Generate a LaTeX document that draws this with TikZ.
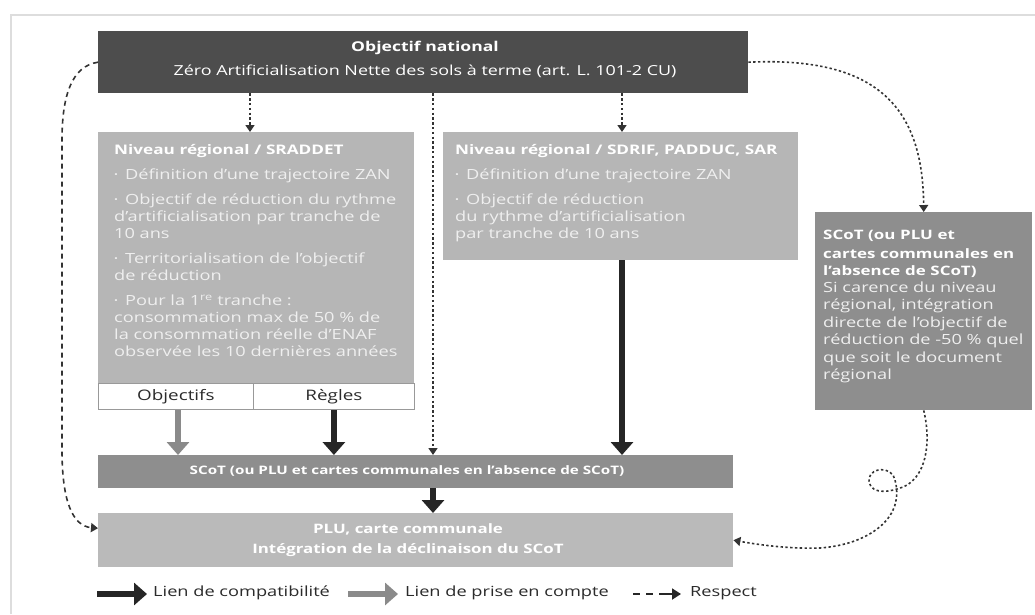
\documentclass[tikz,border=0pt]{standalone}
\usepackage{fontspec}
\setmainfont{Open Sans}[FakeStretch=1.3]
\usetikzlibrary{arrows.meta,calc}
\definecolor{dark}{HTML}{4D4D4D}
\definecolor{light}{HTML}{B6B6B6}
\definecolor{plug}{HTML}{BABABA}
\definecolor{mid}{HTML}{8E8E8E}
\definecolor{framec}{HTML}{DDDDDD}
\definecolor{txt}{HTML}{2B2B2B}
\definecolor{soft}{HTML}{EFEFEF}
\definecolor{arrg}{HTML}{8A8A8A}
\newcommand{\bitem}[1]{\par\vspace{8pt}\hangindent=11pt\hangafter=1\noindent\makebox[11pt][l]{\raisebox{1.5pt}{\fontsize{8}{8}\selectfont •}}#1}
\tikzset{
  box/.style={draw=none, inner sep=0pt, anchor=north west},
  body/.style={font=\fontsize{14}{17}\selectfont, text=soft, align=left, anchor=north west, inner sep=0pt},
  ttl/.style={font=\fontsize{13.2}{17}\selectfont\bfseries, text=white},
  cell/.style={box, fill=white, draw=black!40, line width=0.8pt, font=\fontsize{14.5}{17}\selectfont, text=txt},
  comp/.style={line width=5.5pt, draw=black!85, -{Triangle[width=22pt,length=13pt]}},
  prise/.style={line width=5.5pt, draw=arrg, -{Triangle[width=22pt,length=13pt]}},
  resp/.style={line width=1.6pt, draw=black!80, dash pattern=on 2.4pt off 2.4pt, -{Triangle[width=9pt,length=7pt]}},
  respd/.style={line width=1.6pt, draw=black!80, dash pattern=on 5pt off 4pt, -{Triangle[width=9pt,length=7pt]}},
  legtxt/.style={font=\fontsize{14}{17}\selectfont, text=txt, anchor=west, inner sep=0pt},
}
\begin{document}
\begin{tikzpicture}[x=1pt,y=-1pt]
\useasboundingbox (0,0) rectangle (1035,614);
\fill[white] (0,0) rectangle (1035,614);
% frame
\draw[framec, line width=1.5pt] (11,614) -- (11,15) -- (1035,15);

% boxes
\node[box, fill=dark, minimum width=650pt, minimum height=62pt] (top) at (98,31) {};
\node[font=\fontsize{13.8}{24}\selectfont, text=white, align=center] (toptxt) at (425,59)
  {{\fontsize{13.5}{24}\selectfont\bfseries Objectif national}\\ Zéro Artificialisation Nette des sols à terme (art. L. 101-2 CU)};

\node[box, fill=light, minimum width=316pt, minimum height=251pt] (srad) at (98,132) {};
\node[body, text width=300pt] (sradtxt) at (114,144) {%
  {\fontsize{13.2}{17}\selectfont\bfseries\color{white}Niveau régional / SRADDET}%
  \bitem{Définition d'une trajectoire ZAN}%
  \bitem{Objectif de réduction du rythme\\ d'artificialisation par tranche de\\ 10 ans}%
  \bitem{Territorialisation de l'objectif\\ de réduction}%
  \bitem{Pour la 1\textsuperscript{re} tranche :\\ consommation max de 50~\% de\\ la consommation réelle d'ENAF\\ observée les 10 dernières années}};

\node[cell, minimum width=155pt, minimum height=26pt] (obj) at (98,383) {Objectifs};
\node[cell, minimum width=161pt, minimum height=26pt] (reg) at (253,383) {Règles};

\node[box, fill=light, minimum width=355pt, minimum height=128pt] (sdrif) at (443,132) {};
\node[body, text width=330pt] (sdriftxt) at (455,144) {%
  {\fontsize{13.2}{17}\selectfont\bfseries\color{white}Niveau régional / SDRIF, PADDUC, SAR}%
  \bitem{Définition d'une trajectoire ZAN}%
  \bitem{Objectif de réduction\\ du rythme d'artificialisation\\ par tranche de 10 ans}};

\node[box, fill=mid, minimum width=217pt, minimum height=198pt] (rscot) at (815,212) {};
\node[body, text width=205pt, font=\fontsize{14}{17.5}\selectfont] (rscottxt) at (823,230) {%
  {\color{white}\fontsize{13}{18.5}\selectfont\bfseries SCoT (ou PLU et\\ cartes communales en\\ l'absence de SCoT)}\par\vspace{-1pt}%
  Si carence du niveau\\ régional, intégration\\ directe de l'objectif de\\ réduction de -50~\% quel\\ que soit le document\\ régional};

\node[box, fill=mid, minimum width=635pt, minimum height=33pt] (scot) at (98,455) {};
\node[ttl, font=\fontsize{11.7}{17}\selectfont\bfseries] (scottxt) at (407,471) {SCoT (ou PLU et cartes communales en l'absence de SCoT)};

\node[box, fill=plug, minimum width=635pt, minimum height=54pt] (plu) at (98,513) {};
\node[ttl, font=\fontsize{13}{20}\selectfont\bfseries, align=center] (plutxt) at (408,540)
  {PLU, carte communale\\ Intégration de la déclinaison du SCoT};

% coordinates for vertical connectors
\coordinate (xa) at (250,0);
\coordinate (xv) at (433,0);
\coordinate (xs) at (622,0);
\coordinate (xo) at (178,0);

% respect links
\draw[resp] (top.south -| xa) -- (srad.north -| xa);
\draw[resp] (top.south -| xs) -- (sdrif.north -| xs);
\draw[resp] (top.south -| xv) -- (scot.north -| xv);
\draw[resp] (top.east) .. controls (880,56) and (923,110) .. (rscot.north);
\draw[respd] (top.west) .. controls (72,66) and (62,95) .. (62,140) -- (62,450)
   .. controls (62,500) and (72,526) .. ([yshift=12pt]plu.west);
\draw[resp] (rscot.south) .. controls (932,445) and (925,478) .. (903,487)
   .. controls (890,492) and (872,495) .. (869,482)
   .. controls (867,470) and (885,465) .. (893,475)
   .. controls (898,485) and (898,500) .. (893,510)
   .. controls (885,528) and (860,545) .. (820,548)
   .. controls (790,549) and (760,545) .. (plu.east);

% compatibility / prise en compte
\draw[prise] (obj.south -| xo) -- (scot.north -| xo);
\draw[comp] (reg.south) -- (scot.north -| reg.south);
\draw[comp] (sdrif.south -| xs) -- (scot.north -| xs);
\draw[comp] (scot.south -| xv) -- (plu.north -| xv);

% legend
\coordinate (l1a) at (97,594);
\coordinate (l1b) at (147,594);
\draw[comp, line width=6pt] (l1a) -- (l1b);
\node[legtxt] (lt1) at (153,593) {Lien de compatibilité};
\coordinate (l2a) at (348,594);
\coordinate (l2b) at (398,594);
\draw[prise, line width=6pt] (l2a) -- (l2b);
\node[legtxt] (lt2) at (405,593) {Lien de prise en compte};
\coordinate (l3a) at (633,594);
\coordinate (l3b) at (681,594);
\draw[line width=1.8pt, draw=black!85, dash pattern=on 7pt off 6pt on 7pt off 6pt on 40pt off 1pt, -{Triangle[width=11pt,length=9pt]}] (l3a) -- (l3b);
\node[legtxt] (lt3) at (690,593) {Respect};
\end{tikzpicture}
\end{document}
